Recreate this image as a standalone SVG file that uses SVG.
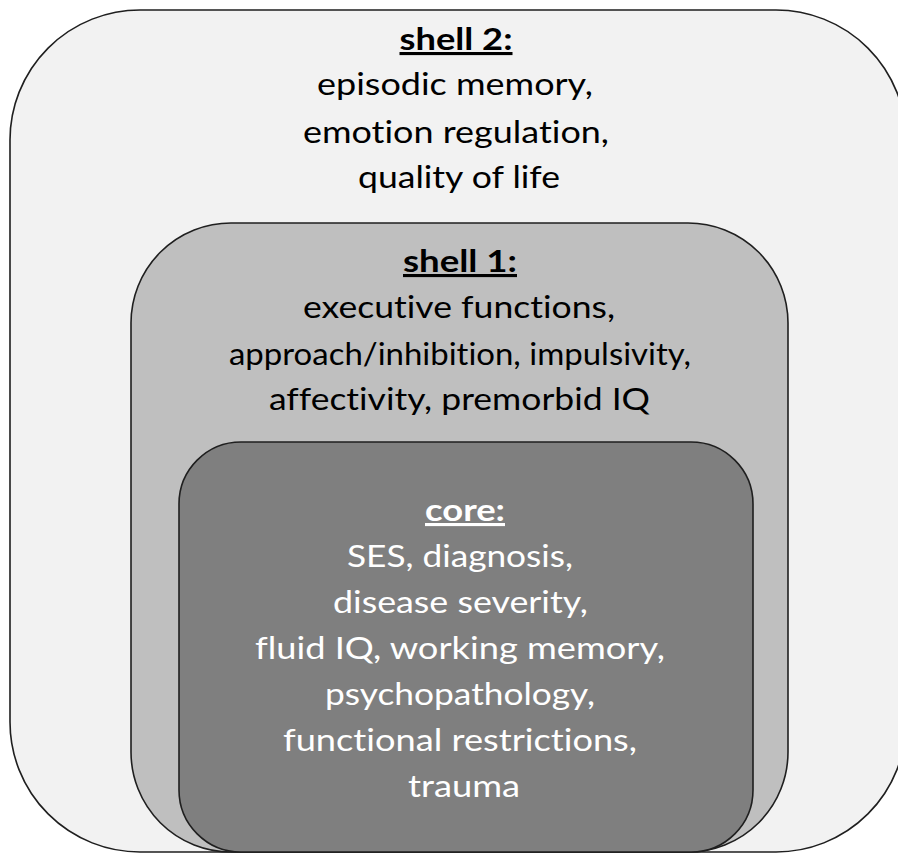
<svg xmlns="http://www.w3.org/2000/svg" width="898" height="853" viewBox="0 0 898 853">
<style>
.box{stroke:#1f1f1f;stroke-width:1.6}
.t{font-family:Lato,"Open Sans","Liberation Sans",sans-serif;font-size:31px;text-anchor:middle;font-variant-ligatures:none;font-feature-settings:"liga" 0,"clig" 0}
.h{font-weight:bold;text-decoration:underline}
.dark{fill:#000000}
.light{fill:#ffffff}
</style>
<rect width="898" height="853" fill="#ffffff"/>
<g id="shell2">
<rect class="box" x="10" y="10" width="896" height="842" rx="130" ry="130" fill="#f2f2f2"/>
<text class="t h dark" x="456" y="50" textLength="113" lengthAdjust="spacingAndGlyphs">shell 2:</text>
<text class="t dark" x="455" y="95" textLength="276" lengthAdjust="spacingAndGlyphs">episodic memory,</text>
<text class="t dark" x="456" y="143" textLength="306" lengthAdjust="spacingAndGlyphs">emotion regulation,</text>
<text class="t dark" x="459" y="188" textLength="202" lengthAdjust="spacingAndGlyphs">quality of life</text>
</g>
<g id="shell1">
<rect class="box" x="131" y="223" width="657" height="629" rx="100" ry="100" fill="#bfbfbf"/>
<text class="t h dark" x="460" y="272" textLength="114" lengthAdjust="spacingAndGlyphs">shell 1:</text>
<text class="t dark" x="459" y="318" textLength="312" lengthAdjust="spacingAndGlyphs">executive functions,</text>
<text class="t dark" x="460" y="365" textLength="462" lengthAdjust="spacingAndGlyphs">approach/inhibition, impulsivity,</text>
<text class="t dark" x="459.5" y="410" textLength="381" lengthAdjust="spacingAndGlyphs">affectivity, premorbid IQ</text>
</g>
<g id="core">
<rect class="box" x="179" y="442" width="574" height="410" rx="62" ry="62" fill="#7f7f7f"/>
<text class="t h light" x="465" y="521" textLength="80" lengthAdjust="spacingAndGlyphs">core:</text>
<text class="t light" x="460" y="567" textLength="226" lengthAdjust="spacingAndGlyphs">SES, diagnosis,</text>
<text class="t light" x="460.5" y="613" textLength="255" lengthAdjust="spacingAndGlyphs">disease severity,</text>
<text class="t light" x="460" y="659" textLength="410" lengthAdjust="spacingAndGlyphs">fluid IQ, working memory,</text>
<text class="t light" x="460" y="705" textLength="270" lengthAdjust="spacingAndGlyphs">psychopathology,</text>
<text class="t light" x="460" y="751" textLength="354" lengthAdjust="spacingAndGlyphs">functional restrictions,</text>
<text class="t light" x="464" y="797" textLength="112" lengthAdjust="spacingAndGlyphs">trauma</text>
</g>
<g id="connectors"></g>
</svg>
